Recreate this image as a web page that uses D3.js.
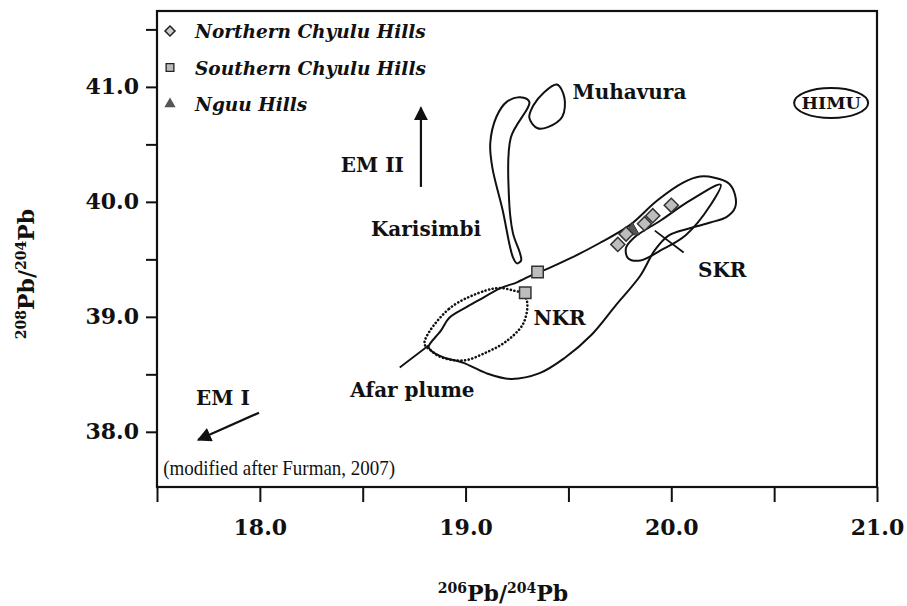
<!DOCTYPE html>
<meta charset="utf-8">
<style>
    body { margin: 0; background: #fff; }
    .field { fill: none; stroke: #111; stroke-width: 2; }
    .afar { fill: none; stroke: #111; stroke-width: 2.6; stroke-dasharray: 0.1 3.6; stroke-linecap: round; }
    .lbl { font-family: "DejaVu Serif", serif; font-weight: bold; font-size: 20px; fill: #111; }
    .tick text { font-family: "DejaVu Serif", serif; font-weight: bold; font-size: 22px; fill: #111; }
    .legend text { font-family: "DejaVu Serif", serif; font-weight: bold; font-style: italic; font-size: 18.5px; fill: #111; }
</style>

<svg width="907" height="606"></svg>

<script src="https://d3js.org/d3.v7.min.js"></script>
<script>
// sample groups (206Pb/204Pb, 208Pb/204Pb)
var northern = [[19.74, 39.63], [19.78, 39.72], [19.87, 39.81], [19.91, 39.88], [20.00, 39.97]];
var southern = [[19.35, 39.39], [19.29, 39.21]];
var nguu = [[19.81, 39.75]];

// field outlines (after Furman, 2007)
var mainField = [[18.82, 38.74], [18.88, 38.88], [18.92, 38.99], [19.00, 39.08], [19.06, 39.14], [19.17, 39.25],
    [19.25, 39.30], [19.33, 39.37], [19.40, 39.42], [19.51, 39.51], [19.65, 39.64], [19.80, 39.80], [19.93, 40.01],
    [20.06, 40.17], [20.14, 40.22], [20.21, 40.21], [20.28, 40.16], [20.31, 40.06], [20.31, 39.95], [20.27, 39.87],
    [20.19, 39.82], [20.09, 39.77], [19.99, 39.71], [19.92, 39.58], [19.85, 39.36], [19.73, 39.10], [19.61, 38.84],
    [19.48, 38.64], [19.36, 38.51], [19.22, 38.46], [19.10, 38.51], [18.99, 38.60], [18.89, 38.65], [18.83, 38.71]];
var skrField = [[20.24, 40.15], [20.09, 40.01], [19.95, 39.84], [19.82, 39.69], [19.78, 39.60], [19.79, 39.51],
    [19.85, 39.49], [19.95, 39.58], [20.07, 39.71], [20.19, 39.97]];
var afarField = [[18.80, 38.77], [18.92, 39.07], [19.10, 39.23], [19.17, 39.25], [19.23, 39.23], [19.28, 39.20],
    [19.30, 39.12], [19.28, 38.94], [19.20, 38.79], [19.10, 38.69], [18.99, 38.62], [18.88, 38.65], [18.83, 38.71]];
var karisimbi = [[19.265, 40.91], [19.31, 40.87], [19.22, 40.56], [19.21, 40.08], [19.23, 39.73], [19.265, 39.55],
    [19.27, 39.49], [19.25, 39.465], [19.23, 39.52], [19.18, 39.93], [19.13, 40.30], [19.12, 40.51], [19.15, 40.74], [19.20, 40.87]];
var muhavura = [[19.444, 41.02], [19.48, 40.91], [19.47, 40.74], [19.40, 40.65], [19.35, 40.64], [19.31, 40.73],
    [19.33, 40.84], [19.38, 40.95]];

var xTicks = [17.5, 18.0, 18.5, 19.0, 19.5, 20.0, 20.5, 21.0];
var xLabels = [18.0, 19.0, 20.0, 21.0];
var yTicks = [38.0, 38.5, 39.0, 39.5, 40.0, 40.5, 41.0, 41.5];
var yLabels = [38.0, 39.0, 40.0, 41.0];

// text labels: [x, y, text, anchor]
var labels = [
    [19.52, 40.895, "Muhavura", "start"],
    [18.70, 40.26, "EM II", "end"],
    [18.54, 39.70, "Karisimbi", "start"],
    [20.13, 39.35, "SKR", "start"],
    [19.33, 38.93, "NKR", "start"],
    [18.44, 38.30, "Afar plume", "start"],
    [17.69, 38.23, "EM I", "start"]
];
// leader lines and arrows: [x1, y1, x2, y2]
var leaders = [[18.68, 38.56, 18.82, 38.75], [19.92, 39.75, 20.06, 39.56]];
var arrows = [[18.783, 40.13, 18.783, 40.82], [17.996, 38.166, 17.70, 37.93]];
var himu = [20.777, 40.86];

var margin = { top: 11, right: 30, bottom: 119, left: 157 };
var svg = d3.select("svg"),
    width = +svg.attr("width") - margin.left - margin.right,
    height = +svg.attr("height") - margin.top - margin.bottom;

var x = d3.scaleLinear().domain([17.5, 21.0]).range([0, width]);
var y = d3.scaleLinear().domain([37.52, 41.66]).range([height, 0]);

var g = svg.append("g").attr("transform", "translate(" + margin.left + "," + margin.top + ")");

var defs = svg.append("defs");
defs.append("marker")
    .attr("id", "head")
    .attr("viewBox", "0 0 10 10")
    .attr("refX", 9).attr("refY", 5)
    .attr("markerWidth", 6.5).attr("markerHeight", 6.5)
    .attr("markerUnits", "strokeWidth")
    .attr("orient", "auto")
  .append("path")
    .attr("d", "M0,0L10,5L0,10z")
    .attr("fill", "#111");

// axes
var xAxis = d3.axisBottom(x).tickValues(xTicks).tickSize(15).tickPadding(17)
    .tickFormat(function(d) { return xLabels.indexOf(d) >= 0 ? d.toFixed(1) : ""; });
var yAxis = d3.axisLeft(y).tickValues(yTicks).tickSize(11).tickPadding(7)
    .tickFormat(function(d) { return yLabels.indexOf(d) >= 0 ? d.toFixed(1) : ""; });

g.append("g").attr("transform", "translate(0," + height + ")").call(xAxis)
    .call(function(a) { a.select(".domain").remove(); a.selectAll("line").attr("stroke", "#111").attr("stroke-width", 2); });
g.append("g").call(yAxis)
    .call(function(a) { a.select(".domain").remove(); a.selectAll("line").attr("stroke", "#111").attr("stroke-width", 2); });

g.append("rect")
    .attr("width", width).attr("height", height)
    .attr("fill", "none").attr("stroke", "#111").attr("stroke-width", 2.2);

// fields
var outline = d3.line().x(function(d) { return x(d[0]); }).y(function(d) { return y(d[1]); })
    .curve(d3.curveCatmullRomClosed.alpha(0.5));

[mainField, skrField, karisimbi, muhavura].forEach(function(f) {
    g.append("path").attr("class", "field").attr("d", outline(f));
});
g.append("path").attr("class", "afar").attr("d", outline(afarField));

// leaders and arrows
g.selectAll(".leader").data(leaders).enter().append("line")
    .attr("x1", function(d) { return x(d[0]); }).attr("y1", function(d) { return y(d[1]); })
    .attr("x2", function(d) { return x(d[2]); }).attr("y2", function(d) { return y(d[3]); })
    .attr("stroke", "#111").attr("stroke-width", 1.8);
g.selectAll(".arrow").data(arrows).enter().append("line")
    .attr("x1", function(d) { return x(d[0]); }).attr("y1", function(d) { return y(d[1]); })
    .attr("x2", function(d) { return x(d[2]); }).attr("y2", function(d) { return y(d[3]); })
    .attr("stroke", "#111").attr("stroke-width", 2.2)
    .attr("marker-end", "url(#head)");

// HIMU
g.append("ellipse")
    .attr("cx", x(himu[0])).attr("cy", y(himu[1]))
    .attr("rx", 37).attr("ry", 15)
    .attr("fill", "none").attr("stroke", "#111").attr("stroke-width", 2);
g.append("text").attr("class", "lbl")
    .attr("x", x(himu[0])).attr("y", y(himu[1]) + 6.5)
    .attr("text-anchor", "middle").style("font-size", "17.5px").text("HIMU");

g.selectAll(".note").data(labels).enter().append("text")
    .attr("class", "lbl")
    .attr("x", function(d) { return x(d[0]); })
    .attr("y", function(d) { return y(d[1]); })
    .attr("text-anchor", function(d) { return d[3]; })
    .text(function(d) { return d[2]; });

g.append("text")
    .attr("x", x(17.53)).attr("y", y(37.625))
    .attr("textLength", 232).attr("lengthAdjust", "spacingAndGlyphs")
    .style("font-family", "'Liberation Serif', serif").style("font-size", "21px").attr("fill", "#111")
    .text("(modified after Furman, 2007)");

// samples
var diamond = d3.symbol().type(d3.symbolSquare).size(100);
var square = d3.symbol().type(d3.symbolSquare).size(130);
var tri = d3.symbol().type(d3.symbolTriangle).size(90);

g.selectAll(".sq").data(southern).enter().append("path")
    .attr("d", square)
    .attr("transform", function(d) { return "translate(" + x(d[0]) + "," + y(d[1]) + ")"; })
    .attr("fill", "#bdbdbd").attr("stroke", "#333").attr("stroke-width", 1.5);
g.selectAll(".tri").data(nguu).enter().append("path")
    .attr("d", tri)
    .attr("transform", function(d) { return "translate(" + x(d[0]) + "," + y(d[1]) + ")"; })
    .attr("fill", "#555").attr("stroke", "#333").attr("stroke-width", 1);
g.selectAll(".dm").data(northern).enter().append("path")
    .attr("d", diamond)
    .attr("transform", function(d) { return "translate(" + x(d[0]) + "," + y(d[1]) + ") rotate(45)"; })
    .attr("fill", "#bdbdbd").attr("stroke", "#333").attr("stroke-width", 1.5);

// legend
var legend = svg.append("g").attr("class", "legend").attr("transform", "translate(170,31)");
var items = [
    ["Northern Chyulu Hills", "d"],
    ["Southern Chyulu Hills", "s"],
    ["Nguu Hills", "t"]
];
items.forEach(function(it, i) {
    var row = legend.append("g").attr("transform", "translate(0," + i * 36.5 + ")");
    if (it[1] === "d") {
        row.append("path").attr("d", d3.symbol().type(d3.symbolSquare).size(50)).attr("transform", "rotate(45)")
            .attr("fill", "#ccc").attr("stroke", "#222").attr("stroke-width", 1.5);
    } else if (it[1] === "s") {
        row.append("path").attr("d", d3.symbol().type(d3.symbolSquare).size(60))
            .attr("fill", "#bbb").attr("stroke", "#222").attr("stroke-width", 1.3);
    } else {
        row.append("path").attr("d", d3.symbol().type(d3.symbolTriangle).size(55))
            .attr("fill", "#555");
    }
    row.append("text").attr("x", 25).attr("y", 7).text(it[0]);
});

// axis titles
var xt = svg.append("text").attr("class", "lbl")
    .attr("x", 503).attr("y", 601).attr("text-anchor", "middle").style("font-size", "22px");
xt.append("tspan").attr("font-size", "14px").attr("dy", -8).text("206");
xt.append("tspan").attr("dy", 8).text("Pb/");
xt.append("tspan").attr("font-size", "14px").attr("dy", -8).text("204");
xt.append("tspan").attr("dy", 8).text("Pb");

var yt = svg.append("text").attr("class", "lbl")
    .attr("transform", "translate(34,274) rotate(-90)").attr("text-anchor", "middle").style("font-size", "22px");
yt.append("tspan").attr("font-size", "14px").attr("dy", -8).text("208");
yt.append("tspan").attr("dy", 8).text("Pb/");
yt.append("tspan").attr("font-size", "14px").attr("dy", -8).text("204");
yt.append("tspan").attr("dy", 8).text("Pb");
</script>
